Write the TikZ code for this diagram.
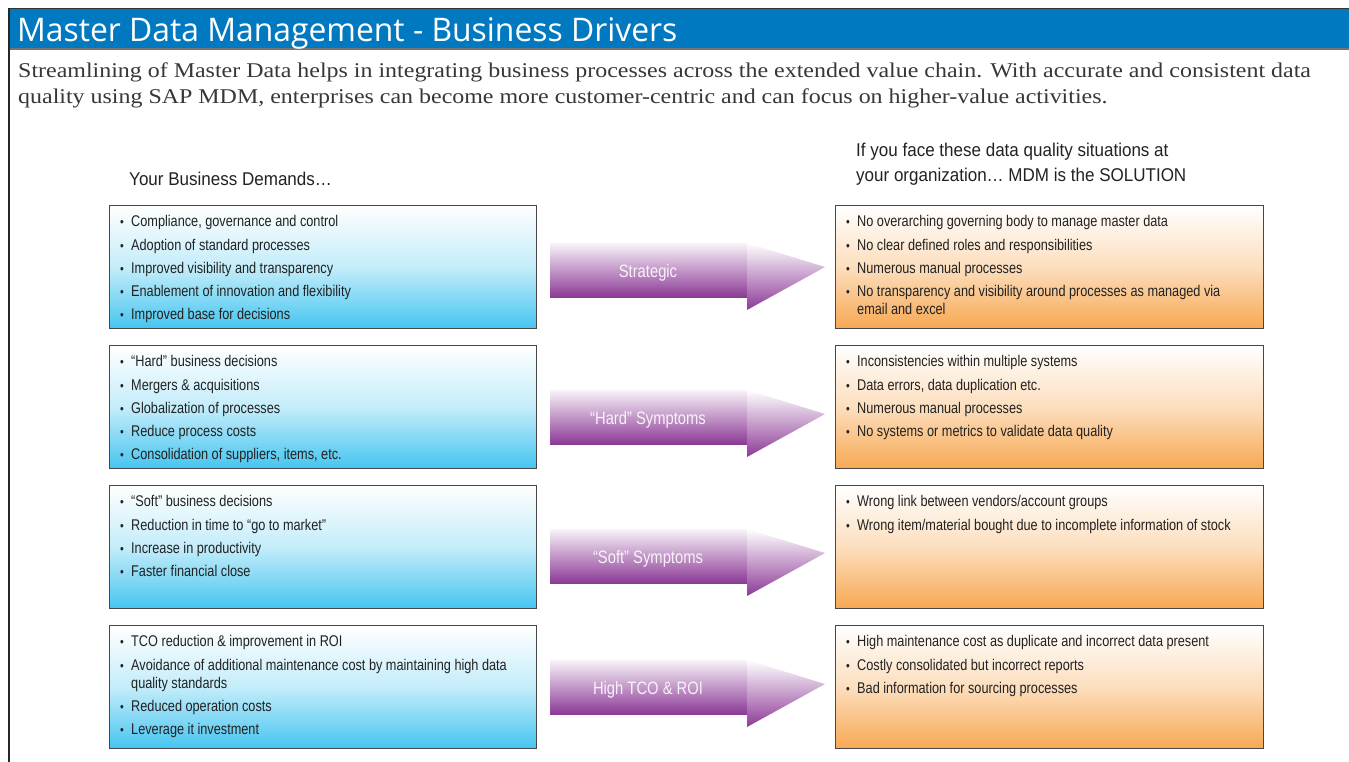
\documentclass[tikz,border=0pt]{standalone}
\usepackage{fontspec}
\setmainfont{Liberation Sans}
\newfontfamily\titlefont[FakeStretch=0.98]{Open Sans}
\newfontfamily\subfont[FakeStretch=1.14]{Liberation Serif}
\newfontfamily\bodyfont[FakeStretch=0.82]{Liberation Sans}
\newfontfamily\headfont[FakeStretch=0.92]{Liberation Sans}
\definecolor{sapblue}{RGB}{0,121,193}
\definecolor{boxblue}{RGB}{69,197,240}
\definecolor{boxorange}{RGB}{247,168,82}
\definecolor{arrpurple}{RGB}{140,58,150}
\definecolor{txtgray}{RGB}{34,34,34}
\definecolor{subgray}{RGB}{55,55,55}
\newcommand{\bul}{\makebox[11pt][l]{\fontsize{13}{13}\selectfont\raisebox{0pt}{•}}}
\newcommand{\ind}{\hspace*{11pt}}
\newcommand{\fst}{\rule{0pt}{12pt}}
\begin{document}
\begin{tikzpicture}[x=1pt,y=-1pt,
  bar/.style={fill=sapblue, inner sep=0, minimum width=1340pt, minimum height=40pt, anchor=north west},
  boxbase/.style={draw=black!72, line width=1.2pt, inner sep=0, minimum width=427pt, minimum height=123pt, anchor=north west},
  lbox/.style={boxbase, top color=white, bottom color=boxblue, middle color=boxblue!32!white},
  rbox/.style={boxbase, top color=white, bottom color=boxorange, middle color=boxorange!38!white},
  items/.style={anchor=north west, inner sep=0, align=left, text=txtgray, font=\bodyfont\fontsize{15.5}{18}\selectfont},
  heading/.style={anchor=base west, inner sep=0, text=txtgray, font=\headfont\fontsize{18.5}{25}\selectfont},
  sub/.style={anchor=base west, inner sep=0, text=subgray, font=\subfont\fontsize{21}{26}\selectfont},
  arrlabel/.style={inner sep=0, text=white!94!arrpurple, font=\bodyfont\fontsize{18}{18}\selectfont}
]
\useasboundingbox (0,0) rectangle (1349,762);
\fill[white] (0,0) rectangle (1349,762);
% header
\node[bar] (bar) at (9,8.5) {};
\draw[line width=1.5pt, black!80] (bar.north west) -- (bar.north east);
\draw[line width=1.5pt, black!55] (bar.south west) -- (bar.south east);
\coordinate (lb) at (9,762);
\draw[line width=2pt, black!85] (9,7.75) -- (lb);
\node[anchor=base west, inner sep=0, text=white, font=\titlefont\fontsize{32.5}{32.5}\selectfont] (title) at (17,41.5) {Master Data Management - Business Drivers};
\node[sub] (sub1) at (18,78) {Streamlining of Master Data helps in integrating business processes across the extended value chain. With accurate and consistent data};
\node[sub] (sub2) at (18,104) {quality using SAP MDM, enterprises can become more customer-centric and can focus on higher-value activities.};
% headings
\node[heading] (hl) at (129,186) {Your Business Demands…};
\node[heading] (hr1) at (856,157) {If you face these data quality situations at};
\node[heading] (hr2) at (856,182) {your organization… MDM is the SOLUTION};
% left boxes
\node[lbox] (L1) at (109,205) {};
\node[lbox] (L2) at (109,345) {};
\node[lbox] (L3) at (109,485) {};
\node[lbox] (L4) at (109,625) {};
% right boxes
\node[rbox, minimum width=428pt] (R1) at (835,205) {};
\node[rbox, minimum width=428pt] (R2) at (835,345) {};
\node[rbox, minimum width=428pt] (R3) at (835,485) {};
\node[rbox, minimum width=428pt] (R4) at (835,625) {};
% texts
\node[items] (L1t) at ([xshift=11pt,yshift=-9.5pt]L1.north west) {\fst\bul Compliance, governance and control\\[5.3pt]\bul Adoption of standard processes\\[5.3pt]\bul Improved visibility and transparency\\[5.3pt]\bul Enablement of innovation and flexibility\\[5.3pt]\bul Improved base for decisions};
\node[items] (L2t) at ([xshift=11pt,yshift=-9.5pt]L2.north west) {\fst\bul “Hard” business decisions\\[5.3pt]\bul Mergers \& acquisitions\\[5.3pt]\bul Globalization of processes\\[5.3pt]\bul Reduce process costs\\[5.3pt]\bul Consolidation of suppliers, items, etc.};
\node[items] (L3t) at ([xshift=11pt,yshift=-9.5pt]L3.north west) {\fst\bul “Soft” business decisions\\[5.3pt]\bul Reduction in time to “go to market”\\[5.3pt]\bul Increase in productivity\\[5.3pt]\bul Faster financial close};
\node[items] (L4t) at ([xshift=11pt,yshift=-9.5pt]L4.north west) {\fst\bul TCO reduction \& improvement in ROI\\[5.3pt]\bul Avoidance of additional maintenance cost by maintaining high data\\\ind quality standards\\[5.3pt]\bul Reduced operation costs\\[5.3pt]\bul Leverage it investment};
\node[items] (R1t) at ([xshift=11pt,yshift=-9.5pt]R1.north west) {\fst\bul No overarching governing body to manage master data\\[5.3pt]\bul No clear defined roles and responsibilities\\[5.3pt]\bul Numerous manual processes\\[5.3pt]\bul No transparency and visibility around processes as managed via\\\ind email and excel};
\node[items] (R2t) at ([xshift=11pt,yshift=-9.5pt]R2.north west) {\fst\bul Inconsistencies within multiple systems\\[5.3pt]\bul Data errors, data duplication etc.\\[5.3pt]\bul Numerous manual processes\\[5.3pt]\bul No systems or metrics to validate data quality};
\node[items] (R3t) at ([xshift=11pt,yshift=-9.5pt]R3.north west) {\fst\bul Wrong link between vendors/account groups\\[5.3pt]\bul Wrong item/material bought due to incomplete information of stock};
\node[items] (R4t) at ([xshift=11pt,yshift=-9.5pt]R4.north west) {\fst\bul High maintenance cost as duplicate and incorrect data present\\[5.3pt]\bul Costly consolidated but incorrect reports\\[5.3pt]\bul Bad information for sourcing processes};
% arrows
\foreach \t/\lab/\nm in {243/Strategic/A1, 390/{“Hard” Symptoms}/A2, 529/{“Soft” Symptoms}/A3, 660/{High TCO \& ROI}/A4}{
  \shade[top color=arrpurple!6, bottom color=arrpurple] (550,\t) rectangle (747,\t+54);
  \shade[top color=white, bottom color=arrpurple] (747,\t) -- (825,\t+24) -- (747,\t+67) -- cycle;
  \node[arrlabel] (\nm) at (648,\t+30) {\lab};
}
\end{tikzpicture}
\end{document}
